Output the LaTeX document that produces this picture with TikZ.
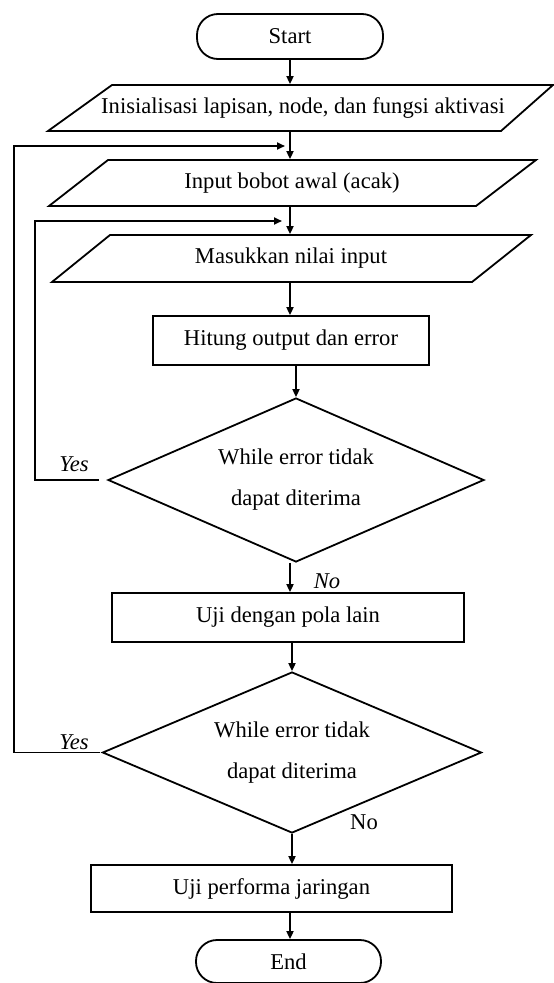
\documentclass[tikz,border=0pt]{standalone}
\usepackage{fontspec}
\setmainfont{Liberation Serif}
\usetikzlibrary{shapes.geometric,arrows.meta}
\begin{document}
\begin{tikzpicture}[x=1pt,y=-1pt,
  line width=1.8pt,
  every node/.style={font=\fontsize{22.6}{41}\selectfont, inner sep=0pt},
  term/.style={draw, rounded corners=21pt},
  proc/.style={draw},
  iobox/.style={},
  decision/.style={draw, diamond, aspect=2.3, align=center},
  arr/.style={-{Triangle[length=8pt,width=7pt]}},
  lbl/.style={font=\fontsize{22.6}{27}\selectfont\itshape}
]
\useasboundingbox (0,0) rectangle (554,983);
\coordinate (ax) at (290,0);

% nodes
\node[term, minimum width=186pt, minimum height=45pt] (start) at (290,36.5) {Start};

\node[iobox, minimum width=400pt, minimum height=46pt] (p1) at (303,108) {Inisialisasi lapisan, node, dan fungsi aktivasi};
\draw (112,85) -- (553,85) -- (501,131) -- (48,131) -- cycle;

\node[iobox, minimum width=300pt, minimum height=46pt] (p2) at (292,183) {Input bobot awal (acak)};
\draw (108,160) -- (536,160) -- (476,206) -- (49,206) -- cycle;

\node[iobox, minimum width=300pt, minimum height=47pt] (p3) at (291,258.5) {Masukkan nilai input};
\draw (110,235) -- (531,235) -- (472,282) -- (52,282) -- cycle;

\node[proc, minimum width=276pt, minimum height=49pt] (hit) at (291,340.5) {Hitung output dan error};

\node[decision, minimum width=376pt, minimum height=164pt] (d1) at (296,480) {While error tidak\\dapat diterima};

\node[proc, minimum width=352pt, minimum height=49pt] (uji) at (288,617.5) {Uji dengan pola lain};

\node[decision, minimum width=379pt, minimum height=161pt] (d2) at (292,752.5) {While error tidak\\dapat diterima};

\node[proc, minimum width=361pt, minimum height=47pt] (perf) at (271.5,888.5) {Uji performa jaringan};

\node[term, minimum width=185pt, minimum height=43pt] (end) at (288.5,961.5) {End};

% labels
\node[lbl] (yes1) at (74,464) {Yes};
\node[lbl] (yes2) at (74,742) {Yes};
\node[lbl] (no1) at (327,581) {No};
\node (no2) at (364,822) {No};

% junctions
\coordinate (j1) at (290,146);
\coordinate (j2) at (290,221);

% connectors
\draw[arr] (start.south) -- (start.south |- p1.north);
\draw[arr] (ax |- p1.south) -- (ax |- p2.north);
\draw[arr] (ax |- p2.south) -- (ax |- p3.north);
\draw[arr] (ax |- p3.south) -- (ax |- hit.north);
\draw[arr] (d1.north |- hit.south) -- (d1.north);
\draw[arr] (ax |- d1.south) -- (ax |- uji.north);
\draw[arr] (d2.north |- uji.south) -- (d2.north);
\draw[arr] (d2.south) -- (d2.south |- perf.north);
\draw[arr] (ax |- perf.south) -- (ax |- end.north);

\draw[arr] ([xshift=-8pt]d1.west) -- (35,480) |- ([xshift=-8pt]j2);
\draw[arr] ([xshift=-2pt]d2.west) -- (14,752.5) |- ([xshift=-5pt]j1);
\end{tikzpicture}
\end{document}
